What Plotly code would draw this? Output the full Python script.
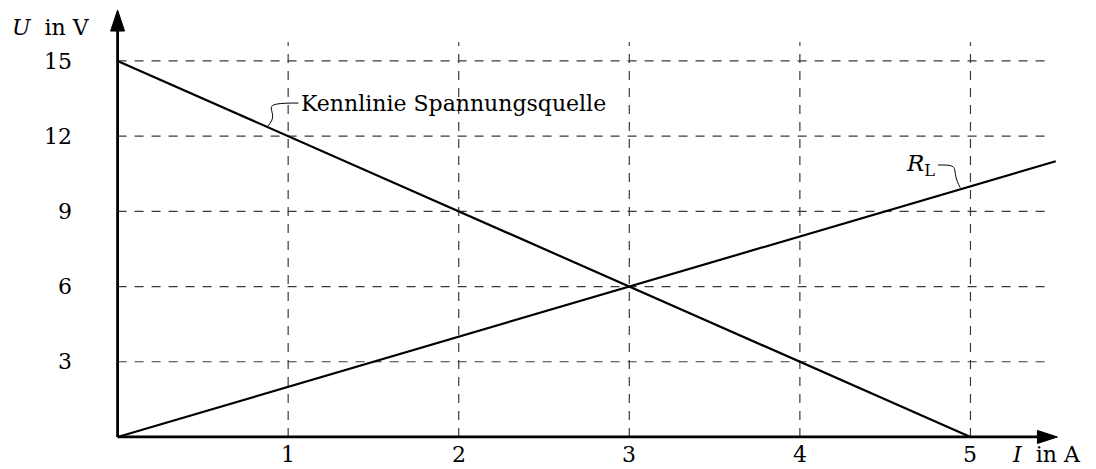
import plotly.graph_objects as go

# Data
I_source = [0, 5]
U_source = [15, 0]
I_load = [0, 5.5]
U_load = [0, 11]
x_ticks = [1, 2, 3, 4, 5]
y_ticks = [3, 6, 9, 12, 15]
x_tick_labels = ["1", "2", "3", "4", "5"]
y_tick_labels = ["3", "6", "9", "12", "15"]
source_label = "Kennlinie Spannungsquelle"
load_label = "<i>R</i><sub>L</sub>"
x_title = "<i>I</i>  in A"
y_title = "<i>U</i>  in V"

FONT = "DejaVu Serif"
FS = 22
OFF = 8  # page body margin
W, H = 1088, 461
px_x = 170.5
px_y = 25.07
X0, Y0 = -0.15, -0.6           # range start so the axes are not clipped
ORIGIN_X, ORIGIN_Y = 110, 429  # origin in figure pixels
ML = ORIGIN_X + X0 * px_x
MB = (H - ORIGIN_Y) + Y0 * px_y
MR, MT = 23, 0
PW = W - ML - MR
PH = H - MT - MB
xr = [X0, X0 + PW / px_x]
yr = [Y0, Y0 + PH / px_y]


def paper_x(sx):
    return (sx - OFF - ML) / PW


def paper_y(sy):
    return 1 - (sy - OFF - MT) / PH


fig = go.Figure()

shapes = []
grid_col = "#3a3a3a"
for xv in x_ticks:
    shapes.append(dict(type="line", x0=xv, x1=xv, y0=0, y1=15.75, xref="x", yref="y",
                       line=dict(color=grid_col, width=1.2, dash="9px,8px"), layer="below"))
for yv in y_ticks:
    shapes.append(dict(type="line", x0=0, x1=5.44, y0=yv, y1=yv, xref="x", yref="y",
                       line=dict(color=grid_col, width=1.2, dash="9px,8px"), layer="below"))

# axes with arrowheads
shapes.append(dict(type="line", x0=0, x1=5.45, y0=0, y1=0, xref="x", yref="y",
                   line=dict(color="black", width=2.8)))
shapes.append(dict(type="line", x0=0, x1=0, y0=0, y1=16.6, xref="x", yref="y",
                   line=dict(color="black", width=2.8)))
shapes.append(dict(type="path", xref="x", yref="y", xsizemode="pixel", ysizemode="pixel",
                   xanchor=5.51, yanchor=0, path="M 0,0 L -20,-6.5 L -20,6.5 Z",
                   fillcolor="black", line=dict(color="black", width=1)))
shapes.append(dict(type="path", xref="x", yref="y", xsizemode="pixel", ysizemode="pixel",
                   xanchor=0, yanchor=17.03, path="M 0,0 L -7,-21 L 7,-21 Z",
                   fillcolor="black", line=dict(color="black", width=1)))

# leader curves
shapes.append(dict(type="path", xref="x", yref="y",
                   path="M 0.88,12.4 C 0.97,13.0 0.80,13.3 1.02,13.32 L 1.06,13.32",
                   line=dict(color="black", width=1)))
shapes.append(dict(type="path", xref="x", yref="y",
                   path="M 4.94,9.95 C 4.88,10.65 4.95,10.85 4.83,10.85 L 4.81,10.85",
                   line=dict(color="black", width=1)))
fig.update_layout(shapes=shapes)

fig.add_trace(go.Scatter(x=I_source, y=U_source, mode="lines",
                         line=dict(color="black", width=2.2), showlegend=False))
fig.add_trace(go.Scatter(x=I_load, y=U_load, mode="lines",
                         line=dict(color="black", width=2.2), showlegend=False))

tf = dict(family=FONT, size=FS, color="black")
annotations = [
    dict(x=1.065, y=13.32, xref="x", yref="y", text=source_label, showarrow=False,
         xanchor="left", yanchor="middle", font=tf),
    dict(x=4.805, y=10.85, xref="x", yref="y", text=load_label, showarrow=False,
         xanchor="right", yanchor="middle", font=dict(family=FONT, size=23, color="black")),
    dict(x=paper_x(92), y=paper_y(28), xref="paper", yref="paper", text=y_title,
         showarrow=False, xanchor="right", yanchor="middle", font=tf),
    dict(x=paper_x(1010), y=paper_y(455), xref="paper", yref="paper", text=x_title,
         showarrow=False, xanchor="left", yanchor="middle", font=tf),
]
# x tick labels (placed below the arrowed axis)
for xv, lab in zip(x_ticks, x_tick_labels):
    annotations.append(dict(x=xv, y=paper_y(455), xref="x", yref="paper", text=lab,
                            showarrow=False, xanchor="center", yanchor="middle", font=tf))
fig.update_layout(annotations=annotations)

fig.update_xaxes(range=xr, showticklabels=False, showgrid=False,
                 zeroline=False, showline=False, ticks="", automargin=False, fixedrange=True)
fig.update_yaxes(range=yr, tickvals=y_ticks, ticktext=y_tick_labels, showgrid=False,
                 zeroline=False, showline=False, ticks="", ticklabelstandoff=19,
                 tickfont=tf, automargin=False, fixedrange=True)

fig.update_layout(width=W, height=H, margin=dict(l=ML, r=MR, t=MT, b=MB),
                  plot_bgcolor="white", paper_bgcolor="white")

fig.write_html("out.html")
